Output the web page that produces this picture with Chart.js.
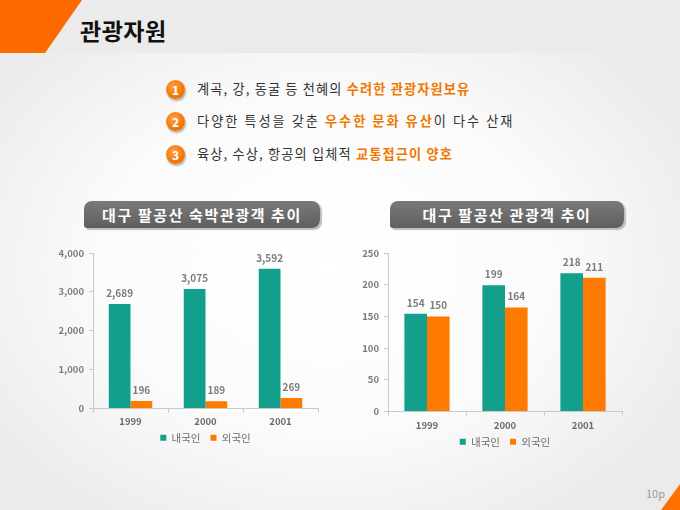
<!DOCTYPE html>
<html><head><meta charset="utf-8">
<script src="https://cdn.jsdelivr.net/npm/chart.js@4"></script>
<style>
html,body{margin:0;padding:0;}
body{width:680px;height:510px;position:relative;overflow:hidden;font-family:"Noto Sans CJK KR","Noto Sans",sans-serif;
background:radial-gradient(ellipse 60% 60% at 48% 52%, #ffffff 0%, #fbfbfb 55%, #ebebeb 100%);}
#hdr{position:absolute;left:0;top:0;width:680px;height:53px;background:#ebebeb;}
#tri{position:absolute;left:0;top:0;width:82px;height:53px;background:#ff6a00;clip-path:polygon(0 0,100% 0,55% 100%,0 100%);}
#title{position:absolute;left:80px;top:16px;font-size:23px;font-weight:bold;color:#111;line-height:28px;letter-spacing:0.5px;}
.bul{position:absolute;left:197px;font-size:13.2px;color:#333;line-height:16px;letter-spacing:1.15px;}
.bul b{color:#f07800;}
.num{position:absolute;left:166px;width:19px;height:19px;border-radius:50%;background:radial-gradient(circle at 40% 35%,#ffa040,#f07000 70%);color:#fff;font-weight:bold;font-size:12px;text-align:center;line-height:19px;box-shadow:1px 2px 2px rgba(0,0,0,0.3);}
.ban{position:absolute;top:201px;height:27px;border-radius:8px 8px 8px 3px;background:linear-gradient(#7a7a7a,#5e5e5e);color:#fff;font-weight:bold;font-size:15px;text-align:center;line-height:27px;box-shadow:2px 2px 1px #bdbdbd;letter-spacing:1.6px;}
#page{position:absolute;left:646px;top:485px;font-size:11px;color:#999;}
#corner{position:absolute;left:661px;top:484px;width:19px;height:26px;background:#ff7000;clip-path:polygon(100% 0,100% 100%,0 100%);}
.cw{position:absolute;}
</style></head><body>
<div id="hdr"></div><div id="tri"></div>
<div id="title">관광자원</div>
<div class="num" style="top:80px">1</div>
<div class="bul" style="top:81px">계곡, 강, 동굴 등 천혜의 <b>수려한 관광자원보유</b></div>
<div class="num" style="top:112px">2</div>
<div class="bul" style="top:113px;letter-spacing:2px;">다양한 특성을 갖춘 <b>우수한 문화 유산</b>이 다수 산재</div>
<div class="num" style="top:145px">3</div>
<div class="bul" style="top:146px">육상, 수상, 항공의 입체적 <b>교통접근이 양호</b></div>
<div class="ban" style="left:84px;width:236px;">대구 팔공산 숙박관광객 추이</div>
<div class="ban" style="left:390px;width:234px;">대구 팔공산 관광객 추이</div>
<div class="cw" style="left:40px;top:240px;width:290px;height:219px;"><canvas id="c1"></canvas></div>
<div class="cw" style="left:340px;top:240px;width:295px;height:223px;"><canvas id="c2"></canvas></div>
<div id="corner"></div><div id="page">10p</div>
<script>
const years = ['1999','2000','2001'];
const seriesNames = ['내국인','외국인'];
const stayDomestic = [2689, 3075, 3592];
const stayForeign = [196, 189, 269];
const visitDomestic = [154, 199, 218];
const visitForeign = [150, 164, 211];
const stayTicks = [0, 1000, 2000, 3000, 4000];
const visitTicks = [0, 50, 100, 150, 200, 250];

const TEAL = '#129f8b', ORANGE = '#ff7a00';
const FONT = '"Noto Sans CJK KR","Noto Sans",sans-serif';
const fmt = v => v.toLocaleString('en-US');

const labelPlugin = {
  id: 'valLabels',
  afterLayout(chart) {
    // pull the legend up closer to the axis labels
    const lg = chart.legend;
    if (lg) { lg.top -= 6; lg.bottom -= 6; }
  },
  afterDatasetsDraw(chart) {
    const ctx = chart.ctx;
    ctx.save();
    ctx.font = 'bold 10px ' + FONT;
    ctx.fillStyle = '#7b7b7b';
    ctx.textAlign = 'center';
    ctx.textBaseline = 'bottom';
    chart.data.datasets.forEach((ds, i) => {
      chart.getDatasetMeta(i).data.forEach((bar, j) => {
        ctx.fillText(fmt(ds.data[j]), bar.x, bar.y - 6);
      });
    });
    ctx.restore();
  }
};

function makeChart(id, dom, fgn, ticks, yW, padR, padT, xH, xPad) {
  new Chart(document.getElementById(id), {
    type: 'bar',
    data: {
      labels: years,
      datasets: [
        {label: seriesNames[0], data: dom, backgroundColor: TEAL},
        {label: seriesNames[1], data: fgn, backgroundColor: ORANGE}
      ]
    },
    plugins: [labelPlugin],
    options: {
      responsive: true, maintainAspectRatio: false, animation: false,
      layout: {padding: {top: padT, right: padR, left: 0, bottom: 0}},
      datasets: {bar: {categoryPercentage: 0.58, barPercentage: 1.0}},
      plugins: {
        tooltip: {enabled: false},
        legend: {position: 'bottom', fullSize: false, labels: {boxWidth: 6, boxHeight: 6, padding: 10, color: '#6a6a6a', font: {family: FONT, size: 10.5}}}
      },
      scales: {
        x: {
          grid: {display: true, drawOnChartArea: false, offset: true, color: '#c8c8c8', tickLength: 4},
          border: {color: '#c8c8c8'},
          ticks: {color: '#6a6a6a', font: {family: FONT, size: 9.5, weight: 'bold'}, padding: xPad},
          afterFit: s => { s.height = xH; }
        },
        y: {
          min: ticks[0], max: ticks[ticks.length - 1],
          afterBuildTicks: s => { s.ticks = ticks.map(v => ({value: v})); },
          grid: {display: true, drawOnChartArea: false, color: '#c8c8c8', tickLength: 4},
          border: {color: '#c8c8c8'},
          ticks: {color: '#7b7b7b', font: {family: FONT, size: 9.5, weight: 'bold'}, padding: 5, callback: v => fmt(v)},
          afterFit: s => { s.width = yW; }
        }
      }
    }
  });
}
makeChart('c1', stayDomestic, stayForeign, stayTicks, 53, 12, 13, 20, 3);
makeChart('c2', visitDomestic, visitForeign, visitTicks, 48, 13, 13, 21, 4);
</script>
</body></html>
